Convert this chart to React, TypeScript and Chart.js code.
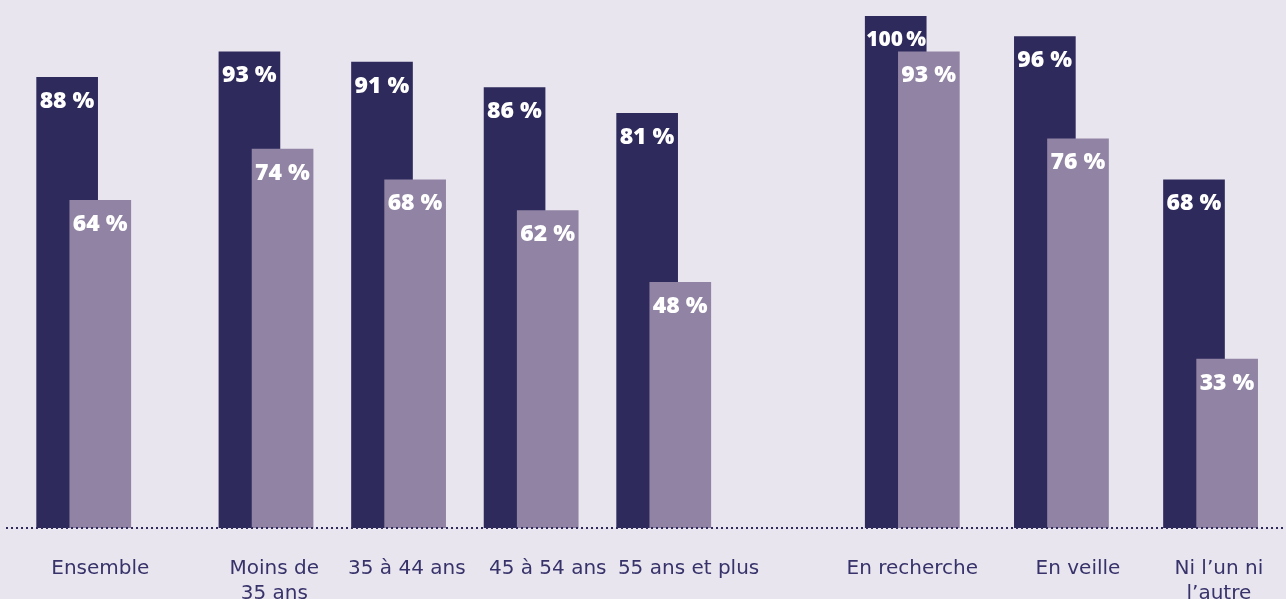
import React, { useEffect, useRef } from "react";
import { Chart, registerables } from "chart.js";

Chart.register(...registerables);

// ---- data ----
const categories: (string | string[])[] = [
  "Ensemble",
  ["Moins de", "35 ans"],
  "35 à 44 ans",
  "45 à 54 ans",
  "55 ans et plus",
  "En recherche",
  "En veille",
  ["Ni l’un ni", "l’autre"],
];
const darkValues = [88, 93, 91, 86, 81, 100, 96, 68];
const lightValues = [64, 74, 68, 62, 48, 93, 76, 33];

// ---- layout (category slot units) ----
const LEAD_SLOTS = 7;
const GROUP_GAPS = [22, 16, 16, 16, 30, 18, 18];
const LIGHT_SHIFT = 4;
const LABEL_SHIFT = [4, 3, 3, 4, 5, 2, 4, 3];
const TRAIL_SLOTS = 6;

// ---- styles ----
const BG = "#e8e5ef";
const DARK = "#2e2a5c";
const LIGHT = "#9183a3";
const TEXT = "#37336a";

const darkSlots = categories.map(
  (_, i) => LEAD_SLOTS + GROUP_GAPS.slice(0, i).reduce((a, b) => a + b, 0)
);
const totalSlots = darkSlots[darkSlots.length - 1] + LIGHT_SHIFT + 1 + TRAIL_SLOTS;
const slotLabels: (string | string[])[] = Array(totalSlots).fill("");
categories.forEach((c, i) => {
  slotLabels[darkSlots[i] + LABEL_SHIFT[i]] = c;
});
const darkData: (number | null)[] = Array(totalSlots).fill(null);
const lightData: (number | null)[] = Array(totalSlots).fill(null);
darkValues.forEach((v, i) => (darkData[darkSlots[i]] = v));
lightValues.forEach((v, i) => (lightData[darkSlots[i] + LIGHT_SHIFT] = v));

const overlayPlugin = {
  id: "overlay",
  afterDatasetsDraw(chart: any) {
    const { ctx, chartArea } = chart;
    ctx.save();
    // dotted baseline
    ctx.strokeStyle = DARK;
    ctx.lineWidth = 2;
    ctx.setLineDash([2, 3]);
    ctx.beginPath();
    ctx.moveTo(6, chartArea.bottom);
    ctx.lineTo(chart.width, chartArea.bottom);
    ctx.stroke();
    ctx.setLineDash([]);

    // value labels
    ctx.fillStyle = "#ffffff";
    ctx.textAlign = "left";
    ctx.textBaseline = "middle";
    chart.data.datasets.forEach((ds: any, di: number) => {
      const meta = chart.getDatasetMeta(di);
      meta.data.forEach((el: any, idx: number) => {
        const v = ds.data[idx];
        if (v === null || v === undefined) return;
        const { x, y, width } = el.getProps(["x", "y", "width"], true);
        let left = x - width / 2 + 3;
        let text = `${v} %`;
        let size = 23;
        ctx.font = `800 ${size}px "Open Sans"`;
        let w = ctx.measureText(text).width;
        if (w > width - 4) {
          text = `${v}\u2009%`;
          left = x - width / 2 + 1;
          w = ctx.measureText(text).width;
          const maxW = width - 1;
          if (w > maxW) {
            size = (size * maxW) / w;
            ctx.font = `800 ${size}px "Open Sans"`;
          }
        }
        ctx.fillText(text, left, y + 24);
      });
    });
    ctx.restore();
  },
};

export default function App() {
  const ref = useRef<HTMLCanvasElement | null>(null);

  useEffect(() => {
    document.body.style.margin = "0";
    document.body.style.background = BG;
    const canvas = ref.current;
    if (!canvas) return;
    const chart = new Chart(canvas, {
      type: "bar",
      data: {
        labels: slotLabels as any,
        datasets: [
          {
            label: "light",
            data: lightData,
            backgroundColor: LIGHT,
            grouped: false,
            barThickness: 61,
            borderWidth: 0,
          } as any,
          {
            label: "dark",
            data: darkData,
            backgroundColor: DARK,
            grouped: false,
            barThickness: 61,
            borderWidth: 0,
          } as any,
        ],
      },
      options: {
        animation: false,
        responsive: false,
        layout: { padding: { top: 16, left: 5, right: 5, bottom: 0 } },
        plugins: {
          legend: { display: false },
          tooltip: { enabled: false },
        },
        scales: {
          x: {
            grid: { display: false },
            border: { display: false },
            ticks: {
              autoSkip: false,
              maxRotation: 0,
              minRotation: 0,
              padding: 20,
              color: TEXT,
              font: { family: "DejaVu Sans", size: 20, lineHeight: 1.25 },
            },
            afterFit: (s: any) => {
              s.height = 71;
              s.paddingLeft = 0;
              s.paddingRight = 0;
            },
          },
          y: { display: false, min: 0, max: 100 },
        },
      },
      plugins: [overlayPlugin],
    });
    return () => chart.destroy();
  }, []);

  return (
    <div style={{ width: 1286, height: 599, background: BG, overflow: "hidden" }}>
      <canvas ref={ref} width={1286} height={599} style={{ display: "block" }} />
    </div>
  );
}
